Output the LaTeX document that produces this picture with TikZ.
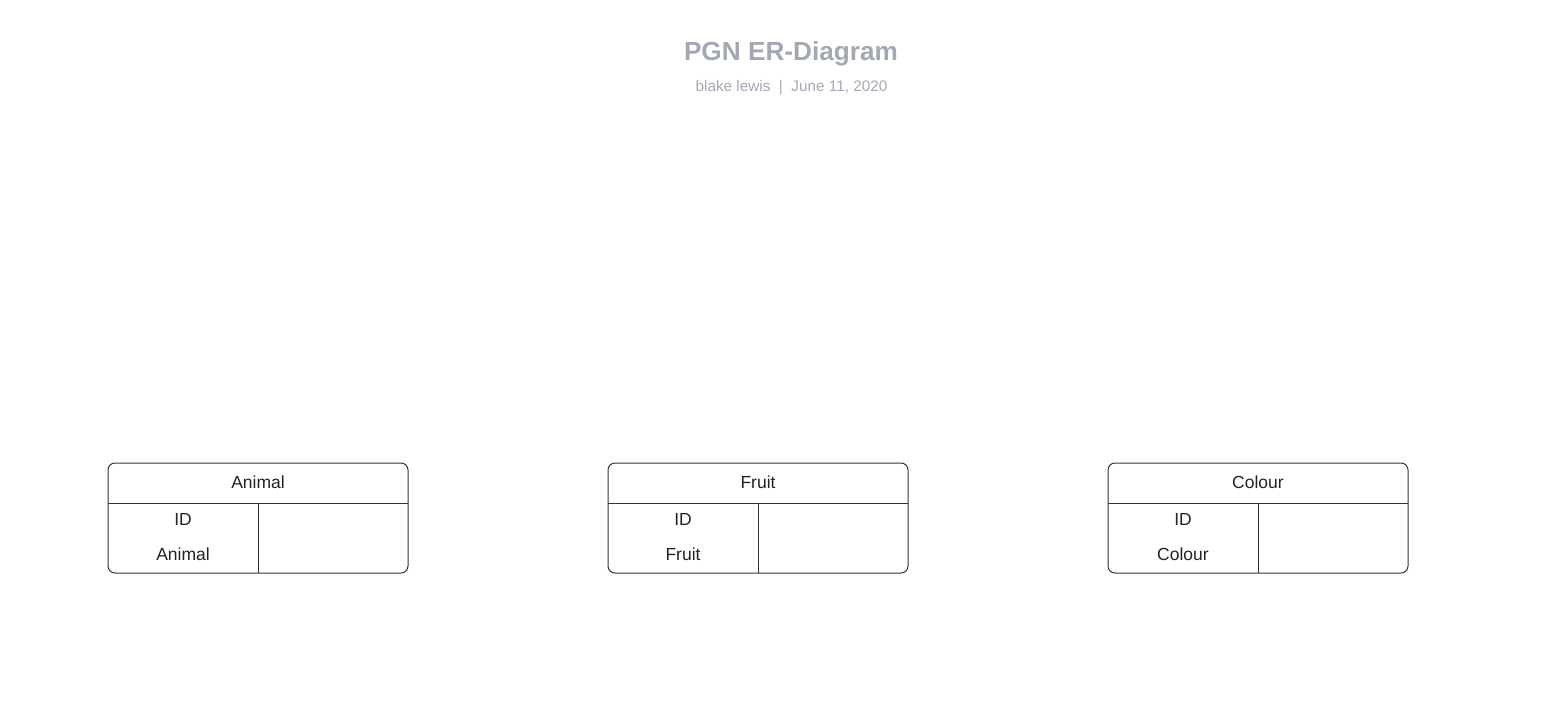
\documentclass[tikz,border=0pt]{standalone}
\usepackage{fontspec}
\setmainfont{Liberation Sans}
\usepackage{tikz}
\usetikzlibrary{calc,positioning}
\definecolor{TitleGray}{HTML}{A3A9B3}
\definecolor{InkGray}{HTML}{222222}
\definecolor{RuleGray}{HTML}{333333}
\tikzstyle{entity} =[draw=RuleGray, rounded corners=7pt, line width=1pt,
                    minimum width=300pt, minimum height=110pt, anchor=north west]
\tikzstyle{rule}   =[draw=RuleGray, line width=1pt]
\tikzstyle{field}  =[text=InkGray, anchor=base, font=\fontsize{17.5}{20}\selectfont]

\begin{document}
\begin{tikzpicture}[x=1pt, y=-1pt, every node/.style = {inner sep=0pt, outer sep=0pt}]
\useasboundingbox (0,0) rectangle (1544,715);
% title block
\node (title) [anchor=base, text=TitleGray, font=\fontsize{26.2}{30}\selectfont\bfseries]
      at (791,60.7) {PGN ER-Diagram};
\node (byline) [anchor=base, text=TitleGray, font=\fontsize{15.3}{18}\selectfont]
      at (791.5,91.2) {blake lewis \ | \ June 11, 2020};
% one table per entity
\foreach \n/\x in {Animal/108, Fruit/608, Colour/1108} {
    \node (\n) [entity] at (\x,463) {};
    \coordinate (\n-hl) at ($(\n.north west)+(0,40)$);
    \coordinate (\n-hr) at ($(\n.north east)+(0,40)$);
    \coordinate (\n-mid) at ($(\n-hl)!0.5!(\n-hr)$);
    \draw [rule] (\n-hl) -- (\n-hr);
    \draw [rule] (\n-mid) -- (\n-mid |- \n.south);
    \node (\n-head) [field] at (\x+150,488.3) {\n};
    \node (\n-id) [field] at (\x+75,525.3) {ID};
    \node (\n-name) [field] at (\x+75,560.3) {\n};
}
\end{tikzpicture}
\end{document}
